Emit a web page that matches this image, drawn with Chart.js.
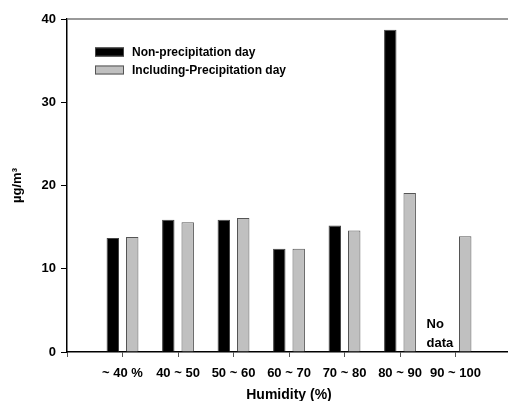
<!DOCTYPE html>
<html>
<head>
<meta charset="utf-8">
<script src="https://cdn.jsdelivr.net/npm/chart.js@4"></script>
<style>
  html, body { margin: 0; padding: 0; background: #fff; overflow: hidden; }
  #wrap { width: 520px; height: 401px; }
</style>
</head>
<body>
<div id="wrap"><canvas id="humidity-chart" width="520" height="401"></canvas></div>
<script>
// humidity bins on the x axis
const humidityBins = ['~ 40 %', '40 ~ 50', '50 ~ 60', '60 ~ 70', '70 ~ 80', '80 ~ 90', '90 ~ 100'];
// concentration in µg/m3
const nonPrecipDay = [13.7, 15.9, 15.9, 12.4, 15.2, 38.7, null];
const inclPrecipDay = [13.8, 15.6, 16.1, 12.4, 14.6, 19.1, 13.9];
const yTicks = [0, 10, 20, 30, 40];
const noDataBin = '90 ~ 100';

// empty slot on both sides so the groups sit one step in from the axes
const labels = [''].concat(humidityBins, ['']);
const pad = arr => [null].concat(arr, [null]);

Chart.defaults.font.family = '"Liberation Sans", Arial, sans-serif';
Chart.defaults.color = '#000';

const boldFont = size => ({ size: size, weight: 'bold' });

// frame, legend and the "No data" note
const extras = {
    id: 'extras',
    afterDraw(chart) {
        const ctx = chart.ctx;
        const area = chart.chartArea;
        ctx.save();

        // top border of the frame
        ctx.strokeStyle = '#777';
        ctx.lineWidth = 1.5;
        ctx.beginPath();
        ctx.moveTo(area.left, area.top);
        ctx.lineTo(area.right, area.top);
        ctx.stroke();

        // legend in the upper left of the plot
        ctx.font = 'bold 12px "Liberation Sans", Arial, sans-serif';
        ctx.textBaseline = 'middle';
        ctx.textAlign = 'left';
        chart.data.datasets.forEach(function (ds, i) {
            const cy = area.top + 33 + i * 18;
            ctx.fillStyle = ds.backgroundColor;
            ctx.fillRect(area.left + 28, cy - 4.5, 29, 9);
            ctx.strokeStyle = ds.borderColor;
            ctx.lineWidth = 1;
            ctx.strokeRect(area.left + 28.5, cy - 4, 28, 8);
            ctx.fillStyle = '#000';
            ctx.fillText(ds.label, area.left + 65, cy + 1);
        });

        // note where the first series has no value
        const x = chart.scales.x.getPixelForValue(labels.indexOf(noDataBin));
        const y0 = chart.scales.y.getPixelForValue(0);
        ctx.font = 'bold 13px "Liberation Sans", Arial, sans-serif';
        ctx.textBaseline = 'alphabetic';
        ctx.fillText('No', x - 29, y0 - 24);
        ctx.fillText('data', x - 29, y0 - 5);
        ctx.restore();
    }
};

const ctx = document.getElementById('humidity-chart').getContext('2d');
new Chart(ctx, {
    type: 'bar',
    data: {
        labels: labels,
        datasets: [{
            label: 'Non-precipitation day',
            data: pad(nonPrecipDay),
            backgroundColor: '#000000',
            borderColor: '#444444',
            borderWidth: 1
        }, {
            label: 'Including-Precipitation day',
            data: pad(inclPrecipDay),
            backgroundColor: '#c0c0c0',
            borderColor: '#555555',
            borderWidth: 1
        }]
    },
    options: {
        responsive: false,
        animation: false,
        categoryPercentage: 0.7,
        barPercentage: 0.64,
        layout: { padding: { top: 19, right: 7, left: 0, bottom: 0 } },
        plugins: {
            legend: { display: false },
            tooltip: { enabled: false }
        },
        scales: {
            x: {
                offset: false,
                afterFit: function (scale) { scale.height = 49; },
                border: { color: '#000', width: 1.5 },
                grid: { display: true, offset: false, drawOnChartArea: false, drawTicks: true, tickLength: 5, color: '#555' },
                ticks: { autoSkip: false, maxRotation: 0, padding: 9, font: boldFont(13) },
                title: { display: true, text: 'Humidity (%)', font: Object.assign(boldFont(14), { lineHeight: 0.8 }), padding: { top: 0, bottom: 0 } }
            },
            y: {
                min: yTicks[0],
                max: yTicks[yTicks.length - 1],
                afterFit: function (scale) { scale.width = 67; },
                afterBuildTicks: function (scale) { scale.ticks = yTicks.map(v => ({ value: v })); },
                border: { color: '#000', width: 1.5 },
                grid: { display: true, drawOnChartArea: false, drawTicks: true, tickLength: 6, color: '#000' },
                ticks: { padding: 5, font: boldFont(13) },
                title: { display: true, text: 'µg/m³', font: boldFont(13), padding: { top: 10, bottom: 0 } }
            }
        }
    },
    plugins: [extras]
});
</script>
</body>
</html>
